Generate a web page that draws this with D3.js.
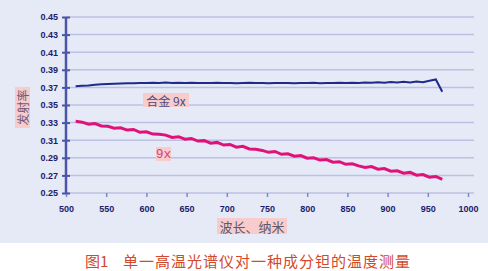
<!DOCTYPE html>
<html lang="zh">
<head>
<meta charset="utf-8">
<title>发射率</title>
<script src="https://d3js.org/d3.v7.min.js"></script>
<style>
  body { margin: 0; background: #fff; }
  svg { display: block; }
</style>
</head>
<body>
<script>
// wavelength (nm)
var wavelengths = [512, 520, 528, 536, 544, 552, 560, 568, 576, 584,
                   592, 600, 608, 616, 624, 632, 640, 648, 656, 664,
                   672, 680, 688, 696, 704, 712, 720, 728, 736, 744,
                   752, 760, 768, 776, 784, 792, 800, 808, 816, 824,
                   832, 840, 848, 856, 864, 872, 880, 888, 896, 904,
                   912, 920, 928, 936, 944, 952, 960, 968];

// 合金 9x
var alloy = [0.3712, 0.3718, 0.3722, 0.3730, 0.3735, 0.3738, 0.3742, 0.3745, 0.3748, 0.3746,
             0.3750, 0.3749, 0.3752, 0.3750, 0.3755, 0.3751, 0.3753, 0.3750, 0.3752, 0.3749,
             0.3751, 0.3750, 0.3752, 0.3749, 0.3751, 0.3748, 0.3750, 0.3752, 0.3749, 0.3750,
             0.3748, 0.3751, 0.3749, 0.3750, 0.3748, 0.3750, 0.3749, 0.3752, 0.3748, 0.3751,
             0.3750, 0.3753, 0.3750, 0.3754, 0.3751, 0.3756, 0.3752, 0.3758, 0.3753, 0.3760,
             0.3755, 0.3763, 0.3757, 0.3768, 0.3760, 0.3775, 0.3790, 0.3650];

// 9x
var nine = [0.3315, 0.3305, 0.3282, 0.3290, 0.3262, 0.3258, 0.3236, 0.3241, 0.3215, 0.3222,
            0.3190, 0.3196, 0.3170, 0.3168, 0.3158, 0.3132, 0.3140, 0.3112, 0.3120, 0.3090,
            0.3095, 0.3066, 0.3075, 0.3045, 0.3052, 0.3020, 0.3030, 0.3000, 0.2998, 0.2984,
            0.2962, 0.2972, 0.2940, 0.2945, 0.2918, 0.2925, 0.2895, 0.2900, 0.2874, 0.2880,
            0.2850, 0.2856, 0.2826, 0.2832, 0.2808, 0.2790, 0.2800, 0.2770, 0.2778, 0.2748,
            0.2752, 0.2725, 0.2734, 0.2702, 0.2710, 0.2680, 0.2688, 0.2655];

var xTicks = [500, 550, 600, 650, 700, 750, 800, 850, 900, 950, 1000];
var yTicks = [0.25, 0.27, 0.29, 0.31, 0.33, 0.35, 0.37, 0.39, 0.41, 0.43, 0.45];

var width = 488, height = 271;

var svg = d3.select("body").append("svg")
    .attr("width", width)
    .attr("height", height);

svg.append("rect")
    .attr("width", width).attr("height", 243)
    .attr("fill", "#e5eaf6");

var x = d3.scaleLinear().domain([500, 1000]).range([66, 468]);
var y = d3.scaleLinear().domain([0.25, 0.45]).range([193, 17]);

// gridlines
svg.append("g")
    .selectAll("line")
    .data(yTicks)
    .join("line")
      .attr("x1", 66).attr("x2", 474)
      .attr("y1", d => y(d)).attr("y2", d => y(d))
      .attr("stroke", "#bcc0e2")
      .attr("stroke-width", 1.5);

// x axis
svg.append("g")
    .attr("transform", "translate(0,193)")
    .call(d3.axisBottom(x).tickValues(xTicks).tickFormat(d3.format("d")).tickSize(4).tickPadding(9))
    .call(g => g.select(".domain").remove())
    .call(g => g.selectAll(".tick line").attr("stroke", "#8088c4").attr("stroke-width", 1.5))
    .call(g => g.selectAll("text")
        .attr("fill", "#1c1c6c")
        .style("font", "bold 9px 'Liberation Sans', Arial, sans-serif"));

// y axis
svg.append("g")
    .attr("transform", "translate(66,0)")
    .call(d3.axisLeft(y).tickValues(yTicks).tickFormat(d3.format(".2f")).tickSize(4).tickPadding(4))
    .call(g => g.select(".domain")
        .attr("d", "M0," + y(0.45) + "V" + y(0.25))
        .attr("stroke", "#4b55a8").attr("stroke-width", 2.5))
    .call(g => g.selectAll(".tick line")
        .attr("x1", 4).attr("stroke", "#4b55a8").attr("stroke-width", 2))
    .call(g => g.selectAll("text")
        .attr("fill", "#1c1c6c")
        .style("font", "bold 9px 'Liberation Sans', Arial, sans-serif"));

var line = d3.line()
    .x((d, i) => x(wavelengths[i]))
    .y(d => y(d));

svg.append("path")
    .datum(alloy)
    .attr("d", line)
    .attr("fill", "none")
    .attr("stroke", "#1f2a8c")
    .attr("stroke-width", 2);

svg.append("path")
    .datum(nine)
    .attr("d", line)
    .attr("fill", "none")
    .attr("stroke", "#e0127a")
    .attr("stroke-width", 3);

// labels with pink boxes
function boxLabel(text, cx, cy, w, h, color, font, rotate) {
  var g = svg.append("g")
      .attr("transform", "translate(" + cx + "," + cy + ")" + (rotate ? " rotate(-90)" : ""));
  g.append("rect")
      .attr("x", -w / 2).attr("y", -h / 2)
      .attr("width", w).attr("height", h)
      .attr("fill", "#f8cccc");
  g.append("text")
      .attr("text-anchor", "middle")
      .attr("dominant-baseline", "central")
      .attr("fill", color)
      .style("font", font)
      .text(text);
}

var cjk = "'Noto Sans CJK SC', sans-serif";
boxLabel("发射率", 22.5, 107.5, 41, 15, "#6a5a7a", "12px " + cjk, true);
boxLabel("合金 9x", 166, 100, 46, 14, "#4a4a80", "12px " + cjk, false);
boxLabel("9x", 163.5, 154, 15, 14, "#d8407a", "13px 'Liberation Mono', monospace", false);
boxLabel("波长、纳米", 252, 226, 70, 16, "#5a5a6a", "13px " + cjk, false);

// caption
svg.append("text")
    .attr("x", 85).attr("y", 267)
    .attr("fill", "#d2482c")
    .style("font", "15px " + cjk)
    .text("图1");

svg.append("text")
    .attr("x", 123).attr("y", 267)
    .attr("fill", "#d2482c")
    .attr("textLength", 287)
    .style("font", "15px " + cjk)
    .text("单一高温光谱仪对一种成分钽的温度测量");
</script>
</body>
</html>
